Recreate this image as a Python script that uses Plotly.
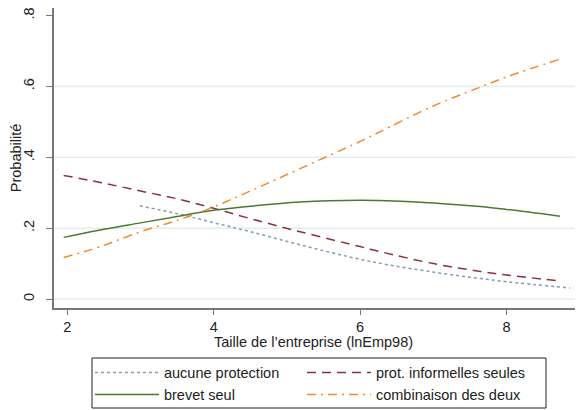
import plotly.graph_objects as go

# Data
x_main = [1.95, 2.45, 3.0, 3.5, 3.95, 4.5, 5.18, 6.0, 6.27, 7.0, 7.64, 8.0, 8.73]
y_informelles = [0.349, 0.329, 0.305, 0.283, 0.259, 0.227, 0.190, 0.148, 0.134, 0.100, 0.078, 0.068, 0.051]
y_brevet = [0.174, 0.195, 0.215, 0.233, 0.249, 0.262, 0.274, 0.279, 0.278, 0.271, 0.261, 0.253, 0.234]
y_combinaison = [0.117, 0.148, 0.190, 0.222, 0.256, 0.305, 0.368, 0.445, 0.472, 0.545, 0.598, 0.627, 0.677]

x_aucune = [2.99, 3.5, 3.95, 4.5, 5.18, 6.0, 6.27, 7.0, 7.64, 8.0, 8.87]
y_aucune = [0.263, 0.241, 0.218, 0.190, 0.153, 0.112, 0.101, 0.076, 0.058, 0.049, 0.031]

y_ticks = [0, 0.2, 0.4, 0.6, 0.8]
y_ticklabels = ["0", ".2", ".4", ".6", ".8"]
grid_vals = [0, 0.2, 0.4, 0.6]
x_ticks = [2, 4, 6, 8]

names = ["aucune protection", "prot. informelles seules", "brevet seul", "combinaison des deux"]
x_title = "Taille de l’entreprise (lnEmp98)"
y_title = "Probabilité"

FONT = "Liberation Sans, Arial, Helvetica, sans-serif"
FS = 14.5

fig = go.Figure()
fig.add_trace(go.Scatter(x=x_aucune, y=y_aucune, mode="lines", name=names[0], legend="legend",
                         line=dict(color="#7f9db5", width=1.5, dash="dot", shape="spline")))
fig.add_trace(go.Scatter(x=x_main, y=y_informelles, mode="lines", name=names[1], legend="legend2",
                         line=dict(color="#8b3044", width=1.5, dash="9px,6px", shape="spline")))
fig.add_trace(go.Scatter(x=x_main, y=y_brevet, mode="lines", name=names[2], legend="legend",
                         line=dict(color="#4a7a30", width=1.5, dash="solid", shape="spline")))
fig.add_trace(go.Scatter(x=x_main, y=y_combinaison, mode="lines", name=names[3], legend="legend2",
                         line=dict(color="#f28a2a", width=1.5, dash="9px,5px,2px,5px", shape="spline")))

for g in grid_vals:
    fig.add_shape(type="line", xref="paper", yref="y", x0=0, x1=1, y0=g, y1=g,
                  line=dict(color="#e3eded", width=1.5), layer="below")

# legend frame
fig.add_shape(type="rect", xref="paper", yref="paper",
              x0=38 / 529, x1=492 / 529, y0=-100 / 300, y1=-50 / 300,
              line=dict(color="#222222", width=1), fillcolor="rgba(0,0,0,0)")

# x axis title
fig.add_annotation(text=x_title, xref="paper", yref="paper", x=0.4905, y=-0.1133,
                   xanchor="center", yanchor="middle", showarrow=False,
                   font=dict(size=FS, family=FONT, color="#222222"))

leg_common = dict(orientation="v", xanchor="left", y=-0.162, yanchor="top",
                  borderwidth=0, bgcolor="rgba(0,0,0,0)", itemwidth=64,
                  font=dict(size=FS, family=FONT), tracegroupgap=0)

fig.update_layout(
    width=575, height=402,
    margin=dict(l=46, r=0, t=0, b=102, autoexpand=False),
    paper_bgcolor="white", plot_bgcolor="white",
    font=dict(family=FONT, size=FS, color="#222222"),
    showlegend=True,
    legend=dict(x=0.068, **leg_common),
    legend2=dict(x=0.068 + 212 / 529, **leg_common),
    xaxis=dict(range=[1.818, 9.045], tickvals=x_ticks, showgrid=False, zeroline=False,
               showline=True, linecolor="#777777", linewidth=2, ticks="outside", ticklen=5,
               tickcolor="#777777", tickwidth=1, tickfont=dict(size=14.5)),
    yaxis=dict(range=[-0.0253, 0.8215], tickvals=y_ticks, ticktext=y_ticklabels, tickangle=-90,
               showgrid=False, zeroline=False, showline=True, linecolor="#777777", linewidth=2,
               ticks="outside", ticklen=6, tickcolor="#777777", tickwidth=1,
               ticklabelstandoff=6, ticklabeloverflow="allow", tickfont=dict(size=14.5),
               title=dict(text=y_title, standoff=5, font=dict(size=FS))),
)

fig.write_html("out.html")
